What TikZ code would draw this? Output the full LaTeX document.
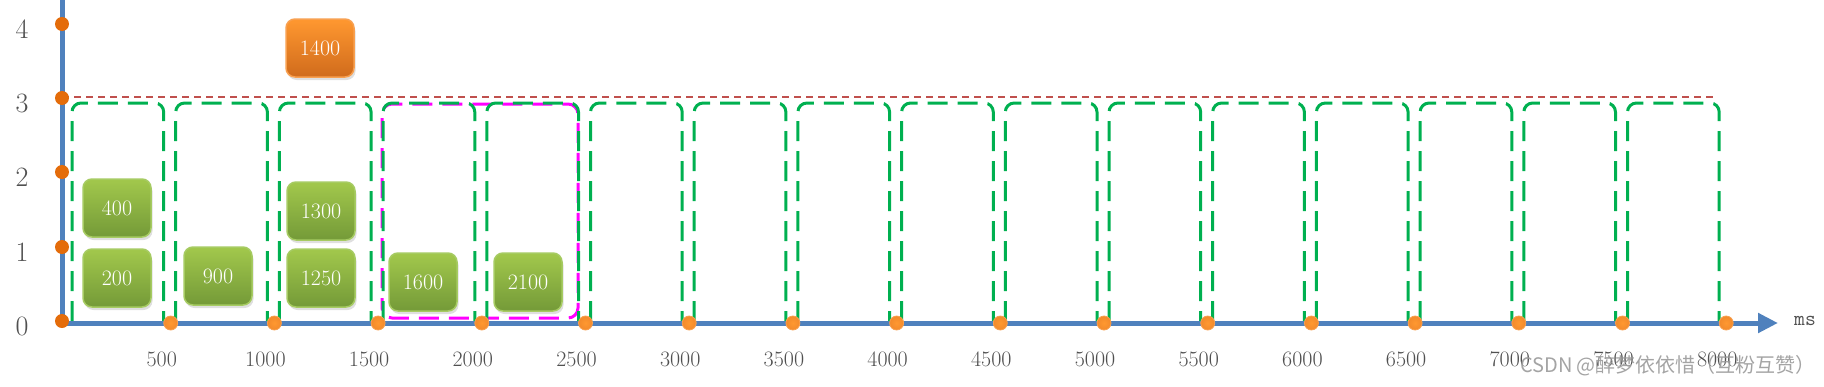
\documentclass[tikz,border=0pt]{standalone}
\usepackage{fontspec}
\newfontfamily\cjk{Noto Sans CJK SC}
\usetikzlibrary{shadows,arrows.meta}
\definecolor{axisblue}{HTML}{4F81BD}
\definecolor{dotdark}{HTML}{E46C0A}
\definecolor{dotlight}{HTML}{F28A2C}
\definecolor{periodgreen}{HTML}{00B050}
\definecolor{limitred}{HTML}{C0504D}
\definecolor{labelgray}{HTML}{505050}
\definecolor{greentop}{HTML}{A2C84C}
\definecolor{greenbot}{HTML}{749A38}
\definecolor{greenedge}{HTML}{A6CB62}
\definecolor{orangetop}{HTML}{FF9830}
\definecolor{orangebot}{HTML}{D06B1C}
\definecolor{orangeedge}{HTML}{F8A050}
\definecolor{wmgray}{HTML}{9A9A9A}
\definecolor{windowmag}{HTML}{FF00FF}
\tikzset{
  axisline/.style={draw=axisblue,line width=5pt},
  limitline/.style={draw=limitred,line width=1.8pt,dash pattern=on 7pt off 5pt},
  periodbox/.style={draw=periodgreen,line width=3pt,dash pattern=on 20pt off 10pt,rounded corners=9pt},
  windowbox/.style={draw=windowmag,line width=3pt,dash pattern=on 20pt off 10pt,dash phase=10pt,rounded corners=10pt},
  ydot/.style={circle,fill=dotdark,minimum size=14pt,inner sep=0pt},
  xdot/.style={circle,inner color=orangetop,outer color=dotlight,draw=orangeedge,line width=0.8pt,minimum size=14pt,inner sep=0pt},
  ticklabel/.style={text=labelgray,font=\fontsize{22}{26}\selectfont,inner sep=0pt},
  ylabel/.style={text=labelgray,font=\fontsize{28}{32}\selectfont,inner sep=0pt},
  block/.style={rounded corners=9pt,minimum width=68pt,minimum height=58pt,inner sep=0pt,
    text=white,font=\fontsize{22}{26}\selectfont,line width=1.5pt,
    drop shadow={opacity=0.25,shadow xshift=1.5pt,shadow yshift=-3pt}},
  greenblock/.style={block,top color=greentop,bottom color=greenbot,draw=greenedge},
  orangeblock/.style={block,top color=orangetop,bottom color=orangebot,draw=orangeedge},
}
\begin{document}
\begin{tikzpicture}[x=1pt,y=-1pt]
\useasboundingbox (0,0) rectangle (1824,386);
% limit line
\coordinate (limstart) at (62,97);
\coordinate (limend) at (1717,97);
\draw[limitline] (limstart) -- (limend);
% window box
\draw[windowbox] (382,318) rectangle (578,104);
% period boxes
\foreach \k in {0,...,15}{
  \pgfmathsetmacro{\xl}{67+103.7*\k+5}
  \pgfmathsetmacro{\xr}{67+103.7*(\k+1)-7}
  \draw[periodbox] (\xl,321) -- (\xl,103) -- (\xr,103) -- (\xr,321);
}
% axes
\coordinate (origin) at (62,323);
\coordinate (ytop) at (62,0);
\coordinate (xend) at (1778,323);
\draw[axisline] (origin) -- (ytop);
\draw[axisline,-{Triangle[length=20pt,width=19pt]}] (59.5,323) -- (xend);
% y dots and labels
\foreach \v/\yy in {0/321,1/247,2/172,3/98,4/24}{
  \node[ydot] (yd\v) at (62,\yy) {};
  \node[ylabel] (yl\v) at (22,\yy+5) {\v};
}
% x dots and labels
\foreach \k in {1,...,16}{
  \pgfmathsetmacro{\xx}{67+103.7*\k}
  \pgfmathtruncatemacro{\ms}{500*\k}
  \node[xdot] (xd\k) at (\xx,323) {};
  \node[ticklabel] (xl\k) at (\xx-9,359) {\ms};
}
\node[text=labelgray,font=\ttfamily\fontsize{21}{24}\selectfont,inner sep=0pt] (unit) at (1805,321) {ms};
% request blocks
\node[greenblock] (r400) at (117,208) {400};
\node[greenblock] (r200) at (117,278) {200};
\node[greenblock] (r900) at (218,276) {900};
\node[greenblock] (r1300) at (321,211) {1300};
\node[greenblock] (r1250) at (321,278) {1250};
\node[greenblock] (r1600) at (423,282) {1600};
\node[greenblock] (r2100) at (528,282) {2100};
\node[orangeblock] (r1400) at (320,48) {1400};
% watermark
\node[text=wmgray,font=\cjk\fontsize{20}{24}\selectfont,inner sep=0pt,opacity=0.9] (wm) at (1668,366) {CSDN @醉梦依依惜（互粉互赞）};
\end{tikzpicture}
\end{document}
